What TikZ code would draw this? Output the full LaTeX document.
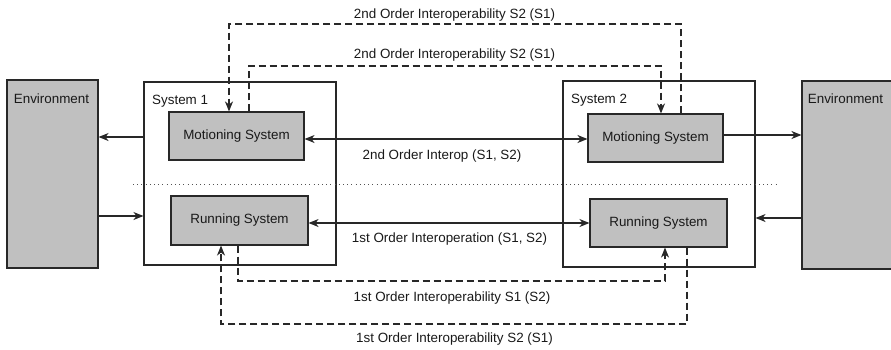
\documentclass[tikz,border=0pt]{standalone}
\usepackage{fontspec}
\setmainfont{Liberation Sans}
\usetikzlibrary{arrows.meta}
\definecolor{boxfill}{RGB}{192,192,192}
\definecolor{edge}{RGB}{40,40,40}
\definecolor{txt}{RGB}{25,25,25}
\tikzset{
  lbl/.style={font=\fontsize{13.4}{16}\selectfont, text=txt, inner sep=0pt},
  graybox/.style={draw=edge, fill=boxfill, line width=1.1pt, inner sep=0pt, lbl},
  sysbox/.style={draw=edge, line width=1.1pt, inner sep=0pt},
  link/.style={draw=edge, line width=1.1pt},
  dashlink/.style={draw=edge, line width=1.1pt, dash pattern=on 7.5pt off 3.5pt},
  >={Stealth[length=10pt,width=8pt,inset=3pt]}
}
\begin{document}
\begin{tikzpicture}[x=1pt, y=-1pt]
\useasboundingbox (0,0) rectangle (891,349);

% environments
\node[graybox, minimum width=91pt, minimum height=188pt] (envL) at (52.5,174) {};
\node[graybox, minimum width=95pt, minimum height=188pt] (envR) at (849.5,175) {};
\node[lbl, anchor=base] at (51.5,103) {Environment};
\node[lbl, anchor=base] at (845.5,103) {Environment};

% systems
\node[sysbox, minimum width=192pt, minimum height=183pt] (s1) at (240,173.5) {};
\node[sysbox, minimum width=192pt, minimum height=186pt] (s2) at (659,174) {};
\node[lbl, anchor=base west] at (152,104) {System 1};
\node[lbl, anchor=base west] at (571,103) {System 2};

% subsystems
\node[graybox, minimum width=135pt, minimum height=48pt] (m1) at (236.5,136) {Motioning System};
\node[graybox, minimum width=135pt, minimum height=48pt] (m2) at (655.5,138) {Motioning System};
\node[graybox, minimum width=137pt, minimum height=49pt] (r1) at (239.5,220.5) {Running System};
\node[graybox, minimum width=137pt, minimum height=48pt] (r2) at (658.5,223) {Running System};

% separator between motioning and running layers
\draw[edge!80, line width=0.9pt, dash pattern=on 1pt off 3.2pt] (133,184) -- (776,184);

% reference heights
\coordinate (ym) at (0,139);
\coordinate (yr) at (0,223);
\coordinate (yoL) at (0,137);
\coordinate (yiL) at (0,216);
\coordinate (yoR) at (0,135);
\coordinate (yiR) at (0,218);

% exchanges with the environments
\draw[link,->] (s1.west |- yoL) -- (envL.east |- yoL);
\draw[link,->] (envL.east |- yiL) -- (s1.west |- yiL);
\draw[link,->] (m2.east |- yoR) -- (envR.west |- yoR);
\draw[link,->] (envR.west |- yiR) -- (s2.east |- yiR);

% direct interoperation
\draw[link,<->] (m1.east |- ym) -- (m2.west |- ym);
\draw[link,<->] (r1.east |- yr) -- (r2.west |- yr);
\node[lbl, anchor=base] at (442,159) {2nd Order Interop (S1, S2)};
\node[lbl, anchor=base] at (449.5,242) {1st Order Interoperation (S1, S2)};

% second order loops
\coordinate (a1) at (681,24);
\coordinate (a2) at (229,24);
\draw[dashlink,->] (m2.north -| a1) -- (a1) -- (a2) -- (m1.north -| a2);
\coordinate (b1) at (249,66);
\coordinate (b2) at (661,66);
\draw[dashlink,->] (m1.north -| b1) -- (b1) -- (b2) -- (m2.north -| b2);
\node[lbl, anchor=base] at (454.5,18) {2nd Order Interoperability S2 (S1)};
\node[lbl, anchor=base] at (454.5,58) {2nd Order Interoperability S2 (S1)};

% first order loops
\coordinate (c1) at (238,281);
\coordinate (c2) at (665,281);
\draw[dashlink,->] (r1.south -| c1) -- (c1) -- (c2) -- (r2.south -| c2);
\coordinate (d1) at (687,324);
\coordinate (d2) at (221,324);
\draw[dashlink,->] (r2.south -| d1) -- (d1) -- (d2) -- (r1.south -| d2);
\node[lbl, anchor=base] at (452,301) {1st Order Interoperability S1 (S2)};
\node[lbl, anchor=base] at (454.5,342) {1st Order Interoperability S2 (S1)};
\end{tikzpicture}
\end{document}
